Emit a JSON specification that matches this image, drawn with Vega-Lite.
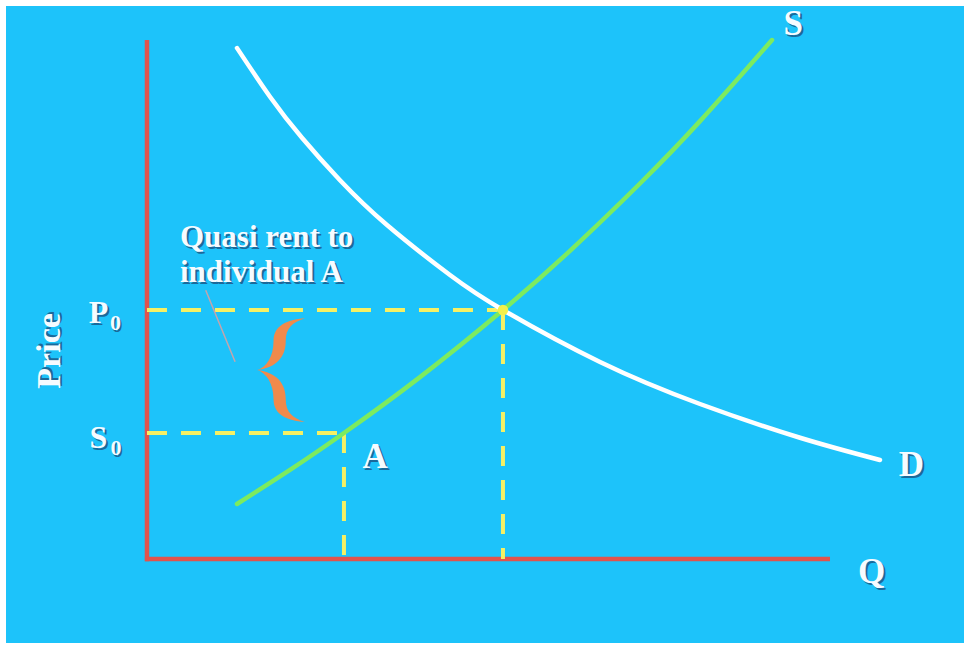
{
  "$schema": "https://vega.github.io/schema/vega-lite/v6.json",
  "width": 964,
  "height": 646,
  "autosize": {"type": "fit", "contains": "padding"},
  "padding": 0,
  "background": "#FFFFFF",
  "config": {"view": {"stroke": null}},
  "datasets": {
    "frame": [{"q": -20.64, "p": 106.55, "q2": 119.62, "p2": -16.18}],
    "axes": [
      {"q": 0, "p": -0.45, "q2": 0, "p2": 100},
      {"q": -0.3, "p": 0, "q2": 100, "p2": 0}
    ],
    "guides": [
      {"q": 0, "p": 47.98, "q2": 52.12, "p2": 47.98},
      {"q": 52.12, "p": 47.98, "q2": 52.12, "p2": 0},
      {"q": 0, "p": 24.28, "q2": 28.84, "p2": 24.28},
      {"q": 28.84, "p": 24.28, "q2": 28.84, "p2": 0}
    ],
    "pointer": [{"q": 8.6, "p": 51.8, "q2": 12.9, "p2": 38.0}],
    "curves": [
      {"curve": "S", "q": 13.18, "p": 10.6},
      {"curve": "S", "q": 20.94, "p": 17.17},
      {"curve": "S", "q": 28.84, "p": 24.28},
      {"curve": "S", "q": 39.97, "p": 35.05},
      {"curve": "S", "q": 52.12, "p": 47.98},
      {"curve": "S", "q": 61.93, "p": 59.38},
      {"curve": "S", "q": 72.18, "p": 72.35},
      {"curve": "S", "q": 80.97, "p": 84.37},
      {"curve": "S", "q": 91.51, "p": 100},
      {"curve": "D", "q": 13.18, "p": 98.46},
      {"curve": "D", "q": 18.01, "p": 89.08},
      {"curve": "D", "q": 22.69, "p": 81.16},
      {"curve": "D", "q": 28.26, "p": 72.99},
      {"curve": "D", "q": 35.14, "p": 64.35},
      {"curve": "D", "q": 44.36, "p": 54.72},
      {"curve": "D", "q": 52.12, "p": 47.98},
      {"curve": "D", "q": 66.33, "p": 37.96},
      {"curve": "D", "q": 80.97, "p": 29.87},
      {"curve": "D", "q": 95.61, "p": 23.37},
      {"curve": "D", "q": 107.32, "p": 19.08}
    ],
    "eq": [{"q": 52.12, "p": 47.98}],
    "brace": [{"q": 19.77, "p": 36.4}],
    "letters": [
      {"text": "S", "q": 94.6, "p": 100.9},
      {"text": "D", "q": 111.9, "p": 16.0},
      {"text": "Q", "q": 106.1, "p": -4.6},
      {"text": "A", "q": 33.4, "p": 17.5}
    ],
    "ticklabels": [
      {"text": "P", "q": -7.1, "p": 45.5},
      {"text": "S", "q": -7.1, "p": 21.4}
    ],
    "subs": [
      {"text": "0", "q": -4.6, "p": 44.1},
      {"text": "0", "q": -4.55, "p": 20.0}
    ],
    "note": [
      {"text": "Quasi rent to", "q": 4.83, "p": 60.1},
      {"text": "individual A", "q": 4.83, "p": 53.4}
    ],
    "ylabel": [{"text": "Price", "q": -14.2, "p": 40.1}]
  },
  "encoding": {
    "x": {"field": "q", "type": "quantitative", "scale": {"domain": [-21.52, 119.62], "nice": false, "zero": false}, "axis": null},
    "y": {"field": "p", "type": "quantitative", "scale": {"domain": [-16.76, 107.71], "nice": false, "zero": false}, "axis": null}
  },
  "layer": [
    {
      "data": {"name": "frame"},
      "mark": {"type": "rect", "color": "#1DC3FA"},
      "encoding": {"x2": {"field": "q2"}, "y2": {"field": "p2"}}
    },
    {
      "data": {"name": "axes"},
      "mark": {"type": "rule", "color": "#E0534D", "strokeWidth": 4.5},
      "encoding": {"x2": {"field": "q2"}, "y2": {"field": "p2"}}
    },
    {
      "data": {"name": "guides"},
      "mark": {"type": "rule", "color": "#F5F064", "strokeWidth": 4, "strokeDash": [20, 14], "strokeCap": "butt"},
      "encoding": {"x2": {"field": "q2"}, "y2": {"field": "p2"}}
    },
    {
      "data": {"name": "pointer"},
      "mark": {"type": "rule", "color": "#C4A4AC", "strokeWidth": 1.5},
      "encoding": {"x2": {"field": "q2"}, "y2": {"field": "p2"}}
    },
    {
      "data": {"name": "curves"},
      "mark": {"type": "line", "interpolate": "natural", "strokeWidth": 4.5, "strokeCap": "round"},
      "encoding": {
        "color": {"field": "curve", "type": "nominal", "scale": {"domain": ["S", "D"], "range": ["#7DEB5F", "#FFFFFF"]}, "legend": null}
      }
    },
    {
      "data": {"name": "eq"},
      "mark": {"type": "circle", "color": "#F2F04A", "size": 110, "opacity": 1}
    },
    {
      "data": {"name": "brace"},
      "mark": {
        "type": "point",
        "shape": "M 0.43,-0.98 C 0.1,-0.95 -0.16,-0.85 -0.16,-0.55 C -0.16,-0.25 -0.3,-0.05 -0.47,0 C -0.3,0.05 -0.16,0.25 -0.16,0.55 C -0.16,0.85 0.1,0.95 0.43,0.98 C 0.2,0.9 0.07,0.8 0.07,0.55 C 0.07,0.25 -0.1,0.05 -0.47,0 C -0.1,-0.05 0.07,-0.25 0.07,-0.55 C 0.07,-0.8 0.2,-0.9 0.43,-0.98 Z",
        "filled": true,
        "size": 11236,
        "color": "#F08A4B",
        "opacity": 1,
        "strokeWidth": 0
      }
    },
    {
      "data": {"name": "letters"},
      "mark": {"type": "text", "font": "Liberation Serif", "fontWeight": "bold", "fontSize": 35, "align": "center", "baseline": "alphabetic", "color": "#1B2F5C", "opacity": 0.6, "dx": 2, "dy": 2},
      "encoding": {"text": {"field": "text"}}
    },
    {
      "data": {"name": "letters"},
      "mark": {"type": "text", "font": "Liberation Serif", "fontWeight": "bold", "fontSize": 35, "align": "center", "baseline": "alphabetic", "color": "#F6FBFF"},
      "encoding": {"text": {"field": "text"}}
    },
    {
      "data": {"name": "ticklabels"},
      "mark": {"type": "text", "font": "Liberation Serif", "fontWeight": "bold", "fontSize": 32, "align": "center", "baseline": "alphabetic", "color": "#1B2F5C", "opacity": 0.6, "dx": 2, "dy": 2},
      "encoding": {"text": {"field": "text"}}
    },
    {
      "data": {"name": "ticklabels"},
      "mark": {"type": "text", "font": "Liberation Serif", "fontWeight": "bold", "fontSize": 32, "align": "center", "baseline": "alphabetic", "color": "#F6FBFF"},
      "encoding": {"text": {"field": "text"}}
    },
    {
      "data": {"name": "subs"},
      "mark": {"type": "text", "font": "Liberation Serif", "fontWeight": "bold", "fontSize": 22, "align": "center", "baseline": "alphabetic", "color": "#1B2F5C", "opacity": 0.6, "dx": 1.5, "dy": 1.5},
      "encoding": {"text": {"field": "text"}}
    },
    {
      "data": {"name": "subs"},
      "mark": {"type": "text", "font": "Liberation Serif", "fontWeight": "bold", "fontSize": 22, "align": "center", "baseline": "alphabetic", "color": "#F6FBFF"},
      "encoding": {"text": {"field": "text"}}
    },
    {
      "data": {"name": "note"},
      "mark": {"type": "text", "font": "Liberation Serif", "fontWeight": "bold", "fontSize": 31, "align": "left", "baseline": "alphabetic", "color": "#1B2F5C", "opacity": 0.6, "dx": 2, "dy": 2},
      "encoding": {"text": {"field": "text"}}
    },
    {
      "data": {"name": "note"},
      "mark": {"type": "text", "font": "Liberation Serif", "fontWeight": "bold", "fontSize": 31, "align": "left", "baseline": "alphabetic", "color": "#F6FBFF"},
      "encoding": {"text": {"field": "text"}}
    },
    {
      "data": {"name": "ylabel"},
      "mark": {"type": "text", "font": "Liberation Serif", "fontWeight": "bold", "fontSize": 34, "align": "center", "baseline": "middle", "angle": 270, "color": "#1B2F5C", "opacity": 0.6, "dx": 2, "dy": 2},
      "encoding": {"text": {"field": "text"}}
    },
    {
      "data": {"name": "ylabel"},
      "mark": {"type": "text", "font": "Liberation Serif", "fontWeight": "bold", "fontSize": 34, "align": "center", "baseline": "middle", "angle": 270, "color": "#F6FBFF"},
      "encoding": {"text": {"field": "text"}}
    }
  ]
}
